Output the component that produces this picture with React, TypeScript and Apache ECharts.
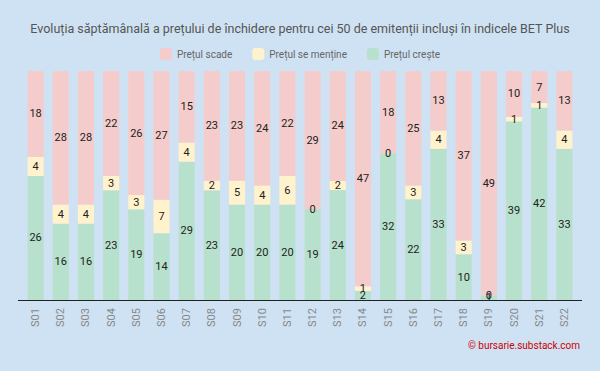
import React, { useEffect, useRef } from "react";
import * as echarts from "echarts";

const weeks = ["S01","S02","S03","S04","S05","S06","S07","S08","S09","S10","S11","S12","S13","S14","S15","S16","S17","S18","S19","S20","S21","S22"];
const rising = [26,16,16,23,19,14,29,23,20,20,20,19,24,2,32,22,33,10,1,39,42,33];
const steady = [4,4,4,3,3,7,4,2,5,4,6,0,2,1,0,3,4,3,0,1,1,4];
const falling = [18,28,28,22,26,27,15,23,23,24,22,29,24,47,18,25,13,37,49,10,7,13];

const seriesNames = ["Prețul scade", "Prețul se menține", "Prețul crește"];
const colors = { falling: "#f4cccc", steady: "#fff2cc", rising: "#b7e1cd" };

export default function App() {
  const ref = useRef<HTMLDivElement>(null);
  useEffect(() => {
    if (!ref.current) return;
    const chart = echarts.init(ref.current, null, { renderer: "svg" });
    const totals = weeks.map((_, i) => rising[i] + steady[i] + falling[i]);
    const pct = (arr: number[]) => arr.map((v, i) => (v / totals[i]) * 100);
    const mk = (name: string, raw: number[], color: string, radius: number[] | number) => ({
      name,
      type: "bar",
      stack: "s",
      barWidth: "64%",
      data: pct(raw),
      itemStyle: { color, borderRadius: radius },
      label: {
        show: true,
        position: "inside",
        color: "#222",
        fontSize: 11,
        fontFamily: "Roboto",
        formatter: (p: any) => String(raw[p.dataIndex]),
      },
    });
    chart.setOption({
      animation: false,
      backgroundColor: "#cfe2f3",
      title: {
        text: "Evoluția săptămânală a prețului de închidere pentru cei 50 de emitenții incluși în indicele BET Plus",
        left: "center",
        top: 17,
        textStyle: { fontSize: 12.5, fontWeight: "normal", color: "#555", fontFamily: "Roboto" },
      },
      legend: {
        data: seriesNames,
        top: 43,
        left: "center",
        icon: "roundRect",
        itemWidth: 12,
        itemHeight: 12,
        itemGap: 20,
        textStyle: { fontSize: 10, color: "#666", fontFamily: "Roboto" },
      },
      grid: { left: 23, right: 23, top: 71, bottom: 71, containLabel: false },
      xAxis: {
        type: "category",
        data: weeks,
        axisLine: { lineStyle: { color: "#222", width: 1 } },
        axisTick: { show: false },
        axisLabel: { rotate: 90, color: "#888", fontSize: 11, fontFamily: "Roboto", margin: 8 },
      },
      yAxis: { type: "value", min: 0, max: 100, show: false, splitLine: { show: false } },
      series: [
        mk("Prețul crește", rising, colors.rising, 0),
        mk("Prețul se menține", steady, colors.steady, 0),
        mk("Prețul scade", falling, colors.falling, [2, 2, 0, 0]),
      ],
      graphic: [
        {
          type: "line",
          shape: { x1: 18, y1: 300.5, x2: 582, y2: 300.5 },
          style: { stroke: "#222", lineWidth: 1 },
          z: 10,
        },
        {
          type: "text",
          right: 20,
          top: 340,
          style: { text: "© bursarie.substack.com", fill: "#cc0000", fontSize: 10, fontFamily: "Roboto" },
        },
      ],
    });
    return () => chart.dispose();
  }, []);
  return <div ref={ref} style={{ width: 600, height: 371, position: "fixed", left: 0, top: 0 }} />;
}
